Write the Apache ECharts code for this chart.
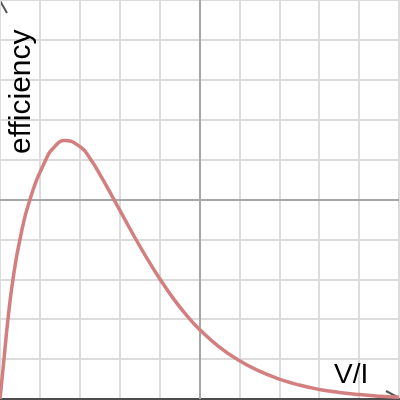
<!DOCTYPE html>
<html><head><meta charset="utf-8">
<script src="https://cdn.jsdelivr.net/npm/echarts@6/dist/echarts.min.js"></script>
<style>html,body{margin:0;padding:0;background:#fff}#c{width:400px;height:400px}</style>
</head><body><div id="c"></div>
<script>
var xValues = [0, 0.1, 0.2, 0.325, 0.5, 0.75, 1.15, 1.375, 1.62, 2.025, 2.25, 2.55, 2.85, 3.125, 3.4, 3.7, 4.0, 4.35, 4.7, 5.025, 5.475, 5.95, 6.475, 7.0, 7.5, 8.0, 8.5, 9.0, 9.525, 10];
var yValues = [0, 1.0, 2.0, 3.0, 4.0, 5.0, 6.0, 6.33, 6.48, 6.31, 6.04, 5.55, 5.01, 4.51, 4.01, 3.5, 3.02, 2.51, 2.07, 1.72, 1.32, 0.99, 0.71, 0.5, 0.35, 0.24, 0.165, 0.11, 0.07, 0.045];
var xLabel = 'V/I';
var yLabel = 'efficiency';
var centerLines = [5];

var chart = echarts.init(document.getElementById('c'), null, {renderer: 'canvas'});
var data = xValues.map(function (x, i) { return [x, yValues[i]]; });
var font = 'Liberation Sans, Arial, sans-serif';
chart.setOption({
  animation: false,
  grid: {left: -1, top: -1, width: 400, height: 400, containLabel: false},
  xAxis: {
    type: 'value', min: 0, max: 10, interval: 1,
    axisLabel: {show: false}, axisTick: {show: false},
    axisLine: {show: true, onZero: false, lineStyle: {color: '#4d4d4d', width: 3}},
    splitLine: {show: true, lineStyle: {color: '#dcdcdc', width: 2}}
  },
  yAxis: {
    type: 'value', min: 0, max: 10, interval: 1,
    axisLabel: {show: false}, axisTick: {show: false},
    axisLine: {show: false},
    splitLine: {show: true, lineStyle: {color: '#dcdcdc', width: 2}}
  },
  series: [{
    type: 'line', data: data, smooth: 0.5, smoothConstraint: false, showSymbol: false,
    lineStyle: {color: '#d37f7f', width: 3.5},
    z: 5,
    markLine: {
      silent: true, symbol: 'none', label: {show: false},
      lineStyle: {color: '#a6a6a6', width: 2, type: 'solid'},
      data: [{xAxis: centerLines[0]}, {yAxis: centerLines[0]}],
      z: 3
    }
  }],
  graphic: [
    {type: 'text', x: 37, y: 154, rotation: Math.PI / 2, z: 10, style: {text: yLabel, fontSize: 30, fontFamily: font, fill: '#000', align: 'left', verticalAlign: 'bottom'}},
    {type: 'text', x: 334, y: 389, z: 10, style: {text: xLabel, fontSize: 28, fontFamily: font, fill: '#000', align: 'left', verticalAlign: 'bottom'}},
    {type: 'polyline', shape: {points: [[-1, -1], [7, 13]]}, style: {stroke: '#555', lineWidth: 2}},
    {type: 'polyline', shape: {points: [[386, 391], [401, 399]]}, style: {stroke: '#555', lineWidth: 2}}
  ]
});
</script></body></html>
